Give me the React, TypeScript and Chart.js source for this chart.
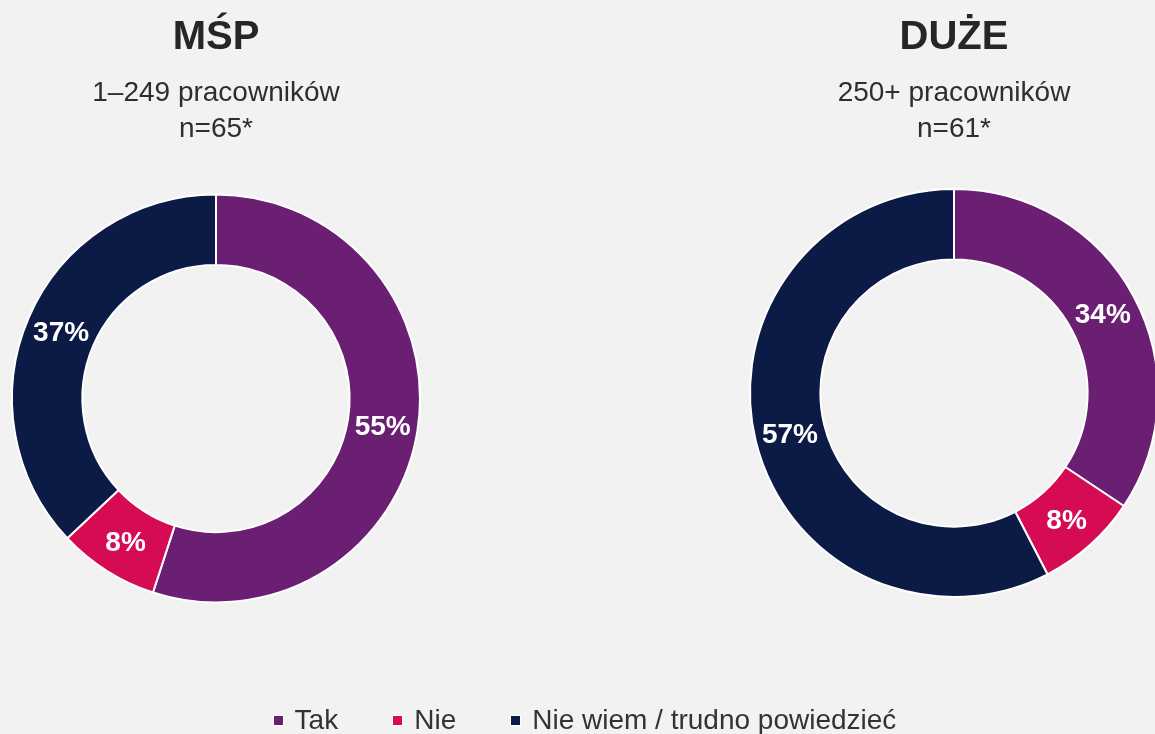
import React, { useEffect, useRef } from "react";
import { Chart, registerables } from "chart.js";

Chart.register(...registerables);

const categories = ["Tak", "Nie", "Nie wiem / trudno powiedzieć"];
const colors = ["#6B1F72", "#D50B53", "#0B1B46"];

const smeTitle = "MŚP";
const smeSubtitle = ["1–249 pracowników", "n=65*"];
const smeValues = [55, 8, 37];

const largeTitle = "DUŻE";
const largeSubtitle = ["250+ pracowników", "n=61*"];
const largeValues = [34, 8, 57];

const FONT = "'Liberation Sans', Arial, Helvetica, sans-serif";

const labelPlugin = {
  id: "arcLabels",
  afterDatasetsDraw(chart: any) {
    const ctx = chart.ctx;
    const meta = chart.getDatasetMeta(0);
    const data = chart.data.datasets[0].data as number[];
    ctx.save();
    ctx.fillStyle = "#ffffff";
    ctx.font = `bold 28px ${FONT}`;
    ctx.textAlign = "center";
    ctx.textBaseline = "middle";
    meta.data.forEach((arc: any, i: number) => {
      const p = arc.tooltipPosition();
      ctx.fillText(`${data[i]}%`, p.x, p.y + 2);
    });
    ctx.restore();
  },
};

function Donut({
  title,
  subtitle,
  values,
  bottomPad,
  left,
}: {
  title: string;
  subtitle: string[];
  values: number[];
  bottomPad: number;
  left: number;
}) {
  const ref = useRef<HTMLCanvasElement>(null);
  useEffect(() => {
    if (!ref.current) return;
    const chart = new Chart(ref.current, {
      type: "doughnut",
      data: {
        labels: categories,
        datasets: [
          {
            data: values,
            backgroundColor: colors,
            borderColor: "#ffffff",
            borderWidth: 2,
            radius: 204,
            cutout: "65.5%",
          } as any,
        ],
      },
      options: {
        responsive: false,
        animation: false,
        layout: { padding: { top: 0, bottom: bottomPad, left: 0, right: 0 } },
        plugins: {
          legend: { display: false },
          tooltip: { enabled: false },
          title: {
            display: true,
            text: title,
            color: "#262626",
            font: { family: FONT, size: 40, weight: "bold", lineHeight: 1.2 },
            padding: { top: 14, bottom: 13 },
          },
          subtitle: {
            display: true,
            text: subtitle,
            color: "#2e2e2e",
            font: { family: FONT, size: 28, weight: "normal", lineHeight: 1.286 },
            padding: { top: 0, bottom: 0 },
          },
        },
      },
      plugins: [labelPlugin],
    });
    return () => chart.destroy();
  }, []);
  return (
    <canvas
      ref={ref}
      width={432}
      height={734}
      style={{ position: "absolute", left, top: 0, display: "block" }}
    />
  );
}

export default function App() {
  return (
    <div
      style={{
        position: "fixed",
        left: 0,
        top: 0,
        width: 1155,
        height: 734,
        background: "#F2F2F2",
        overflow: "hidden",
        fontFamily: FONT,
      }}
    >
      <Donut title={smeTitle} subtitle={smeSubtitle} values={smeValues} bottomPad={84} left={0} />
      <Donut title={largeTitle} subtitle={largeSubtitle} values={largeValues} bottomPad={95} left={738} />
      <div
        style={{
          position: "absolute",
          left: 0,
          width: 1155,
          boxSizing: "border-box",
          paddingLeft: 14,
          top: 706,
          height: 28,
          display: "flex",
          justifyContent: "center",
          alignItems: "center",
          gap: 54,
          fontSize: 28,
          lineHeight: "28px",
          color: "#333333",
        }}
      >
        {categories.map((c, i) => (
          <div key={c} style={{ display: "flex", alignItems: "center" }}>
            <span
              style={{
                display: "inline-block",
                width: 9,
                height: 9,
                background: colors[i],
                border: "1px solid #ffffff",
                marginRight: 11,
              }}
            />
            <span style={{ whiteSpace: "nowrap" }}>{c}</span>
          </div>
        ))}
      </div>
    </div>
  );
}
